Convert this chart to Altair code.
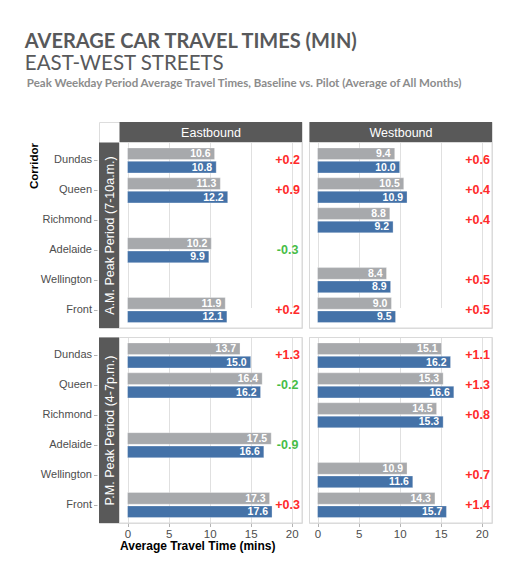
import altair as alt
import pandas as pd

# ---- data -------------------------------------------------------------
corridors = ["Dundas", "Queen", "Richmond", "Adelaide", "Wellington", "Front"]
series = ["Baseline", "Pilot"]

am_east_corr = ["Dundas", "Queen", "Adelaide", "Front"]
am_east_base = [10.6, 11.3, 10.2, 11.9]
am_east_pilot = [10.8, 12.2, 9.9, 12.1]
am_east_diff = [0.2, 0.9, -0.3, 0.2]

am_west_corr = ["Dundas", "Queen", "Richmond", "Wellington", "Front"]
am_west_base = [9.4, 10.5, 8.8, 8.4, 9.0]
am_west_pilot = [10.0, 10.9, 9.2, 8.9, 9.5]
am_west_diff = [0.6, 0.4, 0.4, 0.5, 0.5]

pm_east_corr = ["Dundas", "Queen", "Adelaide", "Front"]
pm_east_base = [13.7, 16.4, 17.5, 17.3]
pm_east_pilot = [15.0, 16.2, 16.6, 17.6]
pm_east_diff = [1.3, -0.2, -0.9, 0.3]

pm_west_corr = ["Dundas", "Queen", "Richmond", "Wellington", "Front"]
pm_west_base = [15.1, 15.3, 14.5, 10.9, 14.3]
pm_west_pilot = [16.2, 16.6, 15.3, 11.6, 15.7]
pm_west_diff = [1.1, 1.3, 0.8, 0.7, 1.4]

x_ticks = [0, 5, 10, 15, 20]

# ---- style ------------------------------------------------------------
GRAY = "#a7a9ac"
BLUE = "#4472a8"
STRIP_FILL = "#595959"
RED = "#ff2a2a"
GREEN = "#47bd47"
BORDER = "#d9d9d9"
GRID = "#e0e0e0"
FONT = "Liberation Sans"
TITLE_FONT = "Lato"

STRIP = 20      # strip thickness
PW = 183        # panel width
PH = 186        # panel height
X_DOMAIN = [-0.98, 21.25]
DIFF_X = 19.5   # where the change labels sit, in minutes


def bar_frame(corr, base, pilot):
    rows = []
    for c, b, p in zip(corr, base, pilot):
        rows.append({"corridor": c, "series": "Baseline", "value": b, "label": f"{b:.1f}"})
        rows.append({"corridor": c, "series": "Pilot", "value": p, "label": f"{p:.1f}"})
    return pd.DataFrame(rows)


def diff_frame(corr, diff):
    return pd.DataFrame({
        "corridor": corr,
        "diff": diff,
        "dlabel": [f"{d:+.1f}" for d in diff],
    })


def panel(corr, base, pilot, diff, col_label=None, row_label=None,
          x_labels=False, x_title=None, show_y_title=False):
    left = STRIP if row_label else 0
    top = STRIP if col_label else 0
    w = left + PW
    h = top + PH

    xs = alt.Scale(domain=X_DOMAIN, range=[left + 0.5, w], nice=False)
    ys = alt.Scale(domain=corridors, range=[top + 0.5, h],
                   paddingInner=0, paddingOuter=0.1)
    yo = alt.Scale(domain=series, paddingInner=0.127, paddingOuter=0.183)

    x_axis = alt.Axis(
        values=x_ticks, grid=True, gridColor=GRID, gridWidth=1,
        domain=False, ticks=x_labels, tickColor="#b3b3b3", tickSize=3.5,
        labels=x_labels, labelColor="#4d4d4d", labelFontSize=11.5,
        labelPadding=2, labelFont=FONT,
        title=x_title, titleAnchor="start", titleAlign="left",
        titleFontSize=12, titleFontWeight="bold", titleColor="#000000",
        titlePadding=0, titleFont=FONT,
    )
    if row_label:
        # both left panels carry the axis title so their extents match;
        # only the upper one shows it
        y_axis = alt.Axis(
            domain=False, grid=False, ticks=True, tickColor="#b3b3b3",
            tickSize=3.5, offset=2, labelColor="#4d4d4d", labelFontSize=11,
            labelPadding=2, labelFont=FONT,
            title="Corridor", titleAnchor="start", titleAlign="right",
            titleFontSize=11.5, titleFontWeight="bold", titleColor="#000000",
            titlePadding=1, titleFont=FONT,
            titleOpacity=1 if show_y_title else 0,
        )
    else:
        y_axis = None

    bars_df = bar_frame(corr, base, pilot)
    diff_df = diff_frame(corr, diff)

    y_enc = alt.Y("corridor:N", scale=ys, axis=y_axis, sort=corridors)
    yo_enc = alt.YOffset("series:N", scale=yo, sort=series)

    bars = alt.Chart(bars_df).mark_bar(
        stroke="white", strokeWidth=0.6, strokeOpacity=0.5
    ).encode(
        x=alt.X("value:Q", scale=xs, axis=x_axis),
        x2=alt.datum(0),
        y=y_enc,
        yOffset=yo_enc,
        color=alt.Color("series:N", scale=alt.Scale(domain=series, range=[GRAY, BLUE]),
                        legend=None),
    )

    values = alt.Chart(bars_df).mark_text(
        align="right", baseline="middle", dx=-4, dy=0.5, color="white",
        fontWeight="bold", fontSize=10.5, font=FONT,
    ).encode(
        x=alt.X("value:Q"),
        y=alt.Y("corridor:N", sort=corridors),
        yOffset=alt.YOffset("series:N", sort=series),
        text="label:N",
    )

    changes = alt.Chart(diff_df).mark_text(
        align="center", baseline="middle", fontWeight="bold", fontSize=12.5,
        font=FONT,
    ).encode(
        x=alt.datum(DIFF_X),
        y=alt.Y("corridor:N", sort=corridors),
        text="dlabel:N",
        color=alt.condition(alt.datum.diff > 0, alt.value(RED), alt.value(GREEN)),
    )

    frame = alt.Chart(pd.DataFrame({"k": [0]})).mark_rect(
        fillOpacity=0, stroke=BORDER, strokeWidth=1
    ).encode(
        x=alt.value(left + 0.5), x2=alt.value(w),
        y=alt.value(top + 0.5), y2=alt.value(h),
    )

    layers = [frame, bars, values, changes]

    if col_label:
        cdf = pd.DataFrame({"strip": [col_label]})
        layers.append(alt.Chart(cdf).mark_rect(color=STRIP_FILL).encode(
            x=alt.value(left + 0.5), x2=alt.value(w),
            y=alt.value(0), y2=alt.value(STRIP),
        ))
        layers.append(alt.Chart(cdf).mark_text(
            color="white", fontSize=12.5, font=FONT, baseline="middle"
        ).encode(
            x=alt.value(left + 0.5 + PW / 2), y=alt.value(STRIP / 2 + 0.5),
            text="strip:N",
        ))
    if row_label:
        rdf = pd.DataFrame({"strip": [row_label]})
        layers.append(alt.Chart(rdf).mark_rect(color=STRIP_FILL).encode(
            x=alt.value(0), x2=alt.value(STRIP),
            y=alt.value(top + 0.5), y2=alt.value(h),
        ))
        layers.append(alt.Chart(rdf).mark_text(
            color="white", fontSize=12.5, font=FONT, angle=270, baseline="middle"
        ).encode(
            x=alt.value(STRIP / 2 + 0.5), y=alt.value(top + 0.5 + PH / 2),
            text="strip:N",
        ))

    return alt.layer(*layers).properties(width=w, height=h)


am_e = panel(am_east_corr, am_east_base, am_east_pilot, am_east_diff,
             col_label="Eastbound", row_label="A.M. Peak Period (7-10a.m.)",
             show_y_title=True)
am_w = panel(am_west_corr, am_west_base, am_west_pilot, am_west_diff,
             col_label="Westbound")
pm_e = panel(pm_east_corr, pm_east_base, pm_east_pilot, pm_east_diff,
             row_label="P.M. Peak Period (4-7p.m.)", x_labels=True,
             x_title="Average Travel Time (mins)")
pm_w = panel(pm_west_corr, pm_west_base, pm_west_pilot, pm_west_diff,
             x_labels=True)

grid = alt.concat(
    am_e, am_w, pm_e, pm_w,
    columns=2, spacing={"row": 7, "column": 5}, align="each",
    title=alt.Title(
        "Peak Weekday Period Average Travel Times, Baseline vs. Pilot (Average of All Months)",
        anchor="start", font=TITLE_FONT, fontSize=11.5, fontWeight="bold",
        color="#8c8c8c", offset=32, dx=-1,
    ),
)

chart = alt.vconcat(
    grid,
    title=alt.Title(
        "AVERAGE CAR TRAVEL TIMES (MIN)",
        subtitle="EAST-WEST STREETS",
        anchor="start", font=TITLE_FONT, fontSize=20, fontWeight="bold",
        color="#58595b", subtitleFont=TITLE_FONT, subtitleFontSize=20.5,
        subtitleFontWeight="normal", subtitleColor="#58595b",
        subtitlePadding=2, offset=4, dx=-2,
    ),
).properties(
    padding={"left": 24, "top": 31, "right": 10, "bottom": 10},
).configure_view(stroke=None).configure(font=FONT)

chart.save("out.html", embed_options={"renderer": "svg", "actions": False})
